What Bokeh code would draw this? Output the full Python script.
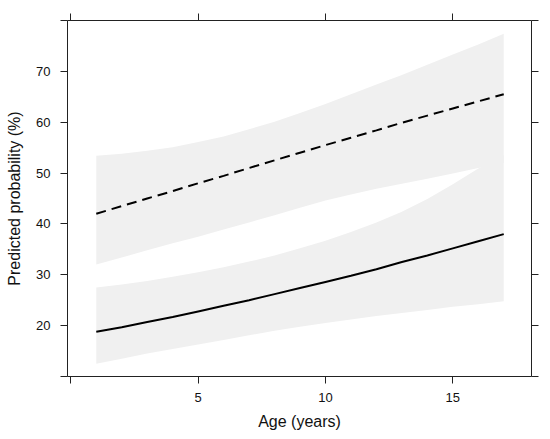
from bokeh.plotting import figure
from bokeh.models import LinearAxis, FixedTicker, Range1d, ColumnDataSource
from bokeh.embed import file_html
from bokeh.resources import INLINE

# ---- data ----
age = list(range(1, 18))
solid_fit = [18.8, 19.7, 20.7, 21.7, 22.8, 23.9, 25.0, 26.2, 27.4, 28.6, 29.8, 31.1, 32.5, 33.8, 35.2, 36.6, 38.0]
solid_lo = [12.5, 13.5, 14.5, 15.4, 16.3, 17.2, 18.1, 19.0, 19.8, 20.5, 21.2, 21.9, 22.5, 23.1, 23.7, 24.2, 24.8]
solid_hi = [27.5, 28.1, 28.8, 29.6, 30.5, 31.5, 32.6, 33.8, 35.2, 36.7, 38.4, 40.3, 42.4, 44.9, 47.8, 50.9, 53.5]
dashed_fit = [42.0, 43.5, 45.0, 46.45, 48.0, 49.45, 51.0, 52.5, 54.0, 55.5, 56.95, 58.4, 59.9, 61.3, 62.7, 64.1, 65.5]
dashed_lo = [32.0, 33.4, 34.8, 36.2, 37.5, 38.9, 40.3, 41.7, 43.2, 44.6, 45.8, 46.9, 47.9, 48.9, 49.9, 51.0, 52.0]
dashed_hi = [53.4, 53.8, 54.4, 55.1, 56.1, 57.2, 58.6, 60.1, 61.8, 63.6, 65.5, 67.4, 69.3, 71.3, 73.3, 75.3, 77.4]

x_ticks = [0, 5, 10, 15]
x_labels = {0: "", 5: "5", 10: "10", 15: "15"}
y_ticks = [10, 20, 30, 40, 50, 60, 70, 80]
y_labels = {10: "", 20: "20", 30: "30", 40: "40", 50: "50", 60: "60", 70: "70", 80: ""}

x_title = "Age (years)"
y_title = "Predicted probability (%)"

FONT = "Liberation Sans"
AX = "#222222"
BAND = "#f0f0f0"

src = ColumnDataSource(dict(age=age, solid_fit=solid_fit, solid_lo=solid_lo, solid_hi=solid_hi,
                            dashed_fit=dashed_fit, dashed_lo=dashed_lo, dashed_hi=dashed_hi))

p = figure(width=550, height=439, output_backend="svg", toolbar_location=None,
           x_range=Range1d(-0.13, 18.09), y_range=Range1d(10, 80),
           min_border_left=67, min_border_right=19, min_border_top=20, min_border_bottom=63)

p.xgrid.grid_line_color = None
p.ygrid.grid_line_color = None
p.outline_line_color = AX
p.outline_line_width = 1
p.background_fill_color = "white"
p.border_fill_color = "white"

p.varea(x="age", y1="dashed_lo", y2="dashed_hi", source=src, fill_color=BAND)
p.varea(x="age", y1="solid_lo", y2="solid_hi", source=src, fill_color=BAND)
p.line(x="age", y="dashed_fit", source=src, line_color="black", line_width=2, line_dash="10 6")
p.line(x="age", y="solid_fit", source=src, line_color="black", line_width=2)


def style(ax, ticks, labels):
    ax.ticker = FixedTicker(ticks=ticks, minor_ticks=[])
    ax.major_label_overrides = labels
    ax.axis_line_color = None
    ax.major_tick_line_color = AX
    ax.major_tick_out = 7
    ax.major_tick_in = 0
    ax.minor_tick_line_color = None
    ax.major_label_text_font = FONT
    ax.major_label_text_font_size = "13px"
    ax.major_label_text_color = "#111111"
    ax.axis_label_text_font = FONT
    ax.axis_label_text_font_size = "16px"
    ax.axis_label_text_font_style = "normal"
    ax.axis_label_text_color = "#111111"


xb = p.xaxis[0]
style(xb, x_ticks, x_labels)
xb.axis_label = x_title
xb.major_label_standoff = 9
xb.axis_label_standoff = 8

yl = p.yaxis[0]
style(yl, y_ticks, y_labels)
yl.axis_label = y_title
yl.major_label_standoff = 10
yl.axis_label_standoff = 10

xt = LinearAxis()
style(xt, x_ticks, {k: "" for k in x_ticks})
p.add_layout(xt, "above")

yr = LinearAxis()
style(yr, y_ticks, {k: "" for k in y_ticks})
p.add_layout(yr, "right")

open("out.html", "w").write(file_html(p, INLINE))
